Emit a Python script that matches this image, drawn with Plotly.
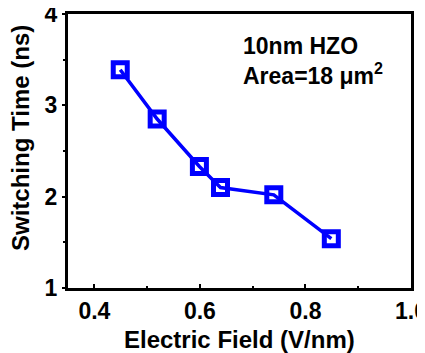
import plotly.graph_objects as go

field = [0.449, 0.519, 0.599, 0.639, 0.740, 0.849]
switch_time = [3.39, 2.85, 2.33, 2.10, 2.02, 1.54]
x_ticks = [0.4, 0.6, 0.8, 1.0]
x_tick_labels = ["0.4", "0.6", "0.8", "1.0"]
y_ticks = [1, 2, 3, 4]
y_tick_labels = ["1", "2", "3", "4"]

FONT = "Liberation Sans, Arial, sans-serif"

# page body has an 8px default margin; figure sized to fit the window
OFF = 8
W, H = 425 - OFF, 353 - OFF
L, R, T, B = 68 - OFF, 425 - 411, 14 - OFF, 353 - 288
PW, PH = W - L - R, H - T - B


def px(xr):
    return (xr - OFF - L) / PW


def py(yr):
    return 1 - (yr - OFF - T) / PH


fig = go.Figure()
fig.add_trace(go.Scatter(
    x=field, y=switch_time, mode="lines+markers",
    line=dict(color="#0000FF", width=3.5),
    marker=dict(symbol="square-open", size=14, color="#0000FF",
                line=dict(width=5, color="#0000FF")),
    showlegend=False,
))

fig.update_layout(
    width=W, height=H,
    margin=dict(l=L, r=R, t=T, b=B, autoexpand=False),
    plot_bgcolor="white", paper_bgcolor="white",
    font=dict(family=FONT, color="black", size=23),
    xaxis=dict(
        range=[0.35, 1.0], tickvals=x_ticks, ticktext=x_tick_labels,
        ticks="inside", ticklen=4, tickwidth=2, tickcolor="black",
        minor=dict(tickvals=[0.5, 0.7, 0.9], ticks="inside", ticklen=2, tickwidth=1.5, tickcolor="black"),
        showline=True, linewidth=3, linecolor="black", mirror=True,
        showgrid=False, zeroline=False, automargin=False,
        ticklabeloverflow="allow",
        tickfont=dict(family=FONT, size=23, weight="bold"),
    ),
    yaxis=dict(
        range=[1, 4], tickvals=y_ticks, ticktext=y_tick_labels,
        ticks="outside", ticklen=3, tickwidth=2, tickcolor="black",
        minor=dict(tickvals=[1.5, 2.5, 3.5], ticks="outside", ticklen=2, tickwidth=1.5, tickcolor="black"),
        showline=True, linewidth=3, linecolor="black", mirror=True,
        showgrid=False, zeroline=False, automargin=False,
        ticklabeloverflow="allow",
        tickfont=dict(family=FONT, size=23, weight="bold"),
    ),
    annotations=[
        dict(x=px(239.5), y=py(339), xref="paper", yref="paper", showarrow=False,
             text="<b>Electric Field (V/nm)</b>", xanchor="center", yanchor="middle",
             font=dict(family=FONT, size=24, color="black")),
        dict(x=px(20), y=py(138), xref="paper", yref="paper", showarrow=False,
             text="<b>Switching Time (ns)</b>", textangle=-90,
             xanchor="center", yanchor="middle",
             font=dict(family=FONT, size=24, color="black")),
        dict(x=px(241), y=py(31), xref="paper", yref="paper", showarrow=False,
             text="<b>10nm HZO<br>Area=18 μm<sup>2</sup></b>",
             align="left", xanchor="left", yanchor="top",
             font=dict(family=FONT, size=23, color="black")),
    ],
)

fig.write_html("out.html")
